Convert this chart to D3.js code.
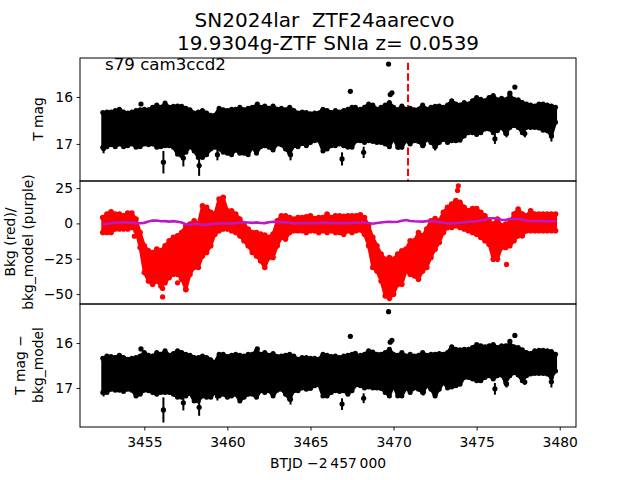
<!DOCTYPE html>
<html><head><meta charset="utf-8">
<script src="https://cdn.jsdelivr.net/npm/d3@7/dist/d3.min.js"></script>
<style>html,body{margin:0;padding:0;background:#fff}svg{display:block}text{font-family:"DejaVu Sans";fill:#000;white-space:pre}</style>
</head><body><svg id="c" width="640" height="480"></svg>
<script>
const titleLines = ["SN2024lar  ZTF24aarecvo", "19.9304g-ZTF SNIa z= 0.0539"];
const note = "s79 cam3ccd2";
const xLabel = "BTJD \u22122\u2009457\u2009000";
const xTicks = [3455,3460,3465,3470,3475,3480];
const firstDay = 3452.5, dayStep = 0.25;
const eventDay = 3470.87;

const magTop = [16.33,16.32,16.32,16.29,16.26,16.32,16.34,16.32,16.29,16.27,16.26,16.27,16.22,16.17,16.22,16.13,16.22,16.20,16.19,16.20,16.24,16.27,16.34,16.32,16.29,16.34,16.39,16.39,16.24,16.27,16.29,16.26,16.26,16.22,16.27,16.24,16.22,16.19,16.22,16.19,16.24,16.19,16.26,16.24,16.27,16.22,16.29,16.34,16.32,16.33,16.36,16.34,16.34,16.26,16.29,16.33,16.29,16.32,16.29,16.26,16.22,16.26,16.26,16.22,16.15,16.17,16.26,16.22,16.17,16.12,16.22,16.27,16.19,16.26,16.24,16.27,16.26,16.17,16.26,16.22,16.20,16.19,16.22,16.17,16.08,16.15,16.17,16.12,16.15,16.08,16.01,16.05,16.08,16.01,15.97,16.06,16.03,16.06,15.97,16.05,16.06,16.12,16.15,16.17,16.19,16.15,16.15,16.17,16.19,16.22];
const magBot = [17.07,17.06,17.02,17.06,17.00,17.06,17.04,17.00,17.07,17.06,17.00,17.02,17.00,17.07,17.06,17.04,17.04,17.07,17.22,17.25,17.18,17.06,17.15,17.29,17.29,17.23,17.11,17.07,17.11,17.18,17.20,17.23,17.13,17.20,17.20,17.23,17.07,17.20,17.06,17.04,17.07,17.13,17.00,17.02,17.11,17.20,17.04,17.06,16.99,17.04,16.97,16.93,16.92,17.15,17.11,17.04,17.04,17.00,17.04,17.07,17.07,16.93,16.93,16.97,16.93,16.95,16.97,16.97,17.00,17.06,16.88,17.07,17.07,16.93,17.00,16.93,16.95,17.04,16.90,16.97,17.06,16.97,16.90,16.97,16.93,16.93,16.92,16.83,16.76,16.76,16.80,16.76,16.68,16.68,16.76,16.72,16.65,16.78,16.65,16.61,16.65,16.76,16.65,16.65,16.65,16.66,16.71,16.72,16.83,16.54];
const bkgTop = [4.2,6.6,8.3,6.6,6.6,5.4,7.3,7.3,3.1,-6.4,-15.8,-19.4,-20.6,-18.2,-19.4,-15.8,-12.3,-9.9,-8.7,-6.4,-1.6,-0.5,1.9,-0.5,12.5,11.4,7.8,6.6,17.3,18.4,9,9,6.6,3.1,-0.5,-4,-6.4,-6.4,-7.6,-8.3,-9.9,-7.6,1.9,5.4,5.4,4.2,3.1,4.2,4.2,4.7,5.4,3.5,4.2,4.2,6.6,4.2,5.4,5.4,5,5.4,5.4,5.4,6.1,4.2,-1.6,-9.9,-15.8,-21.7,-25.3,-24.1,-25.3,-21.7,-19.4,-18.2,-12.3,-12.3,-6.4,-8.7,-4,1.9,3.5,1.9,7.8,11.4,13.7,16.1,14.9,11.4,9,10.6,10.6,7.8,5.4,1.9,-0.5,3.1,-1.6,-0.5,0.7,6.6,10.2,6.6,5.4,9,6.6,6.6,6.6,6.6,6.6,6.6];
const bkgBot = [-6.4,-6.4,-6.4,-4,-4,-4,-4,-2.9,-5.2,-17,-34.8,-40.7,-43,-40.7,-44.2,-41.9,-38.3,-36,-36,-39.5,-46.6,-36,-31.2,-31.2,-23,-20.6,-15.8,-7.6,-5.2,-4,-4,-5.2,-6.4,-8.8,-12.3,-15.8,-20.6,-23,-26.5,-31.2,-24.1,-24.1,-15.8,-9.9,-11.1,-6.4,-5.2,-5.2,-5.2,-6.4,-5.2,-5.2,-6.4,-5.2,-6.4,-5.2,-6.4,-6.4,-7.6,-5.2,-6.4,-5.2,-4.7,-7.6,-15.8,-31.2,-33.6,-40.7,-51.3,-53,-50.1,-43,-43,-33.6,-36,-37.1,-39.5,-33.6,-31.2,-24.1,-18.2,-13.5,-6.4,-2.9,-2.9,-1.7,-2.9,-4,-5.2,-6.4,-7.6,-9.9,-12.3,-14.7,-25.3,-25.3,-17,-17,-15.8,-12.3,-8.8,-8.8,-5.2,-5.2,-5.2,-5.2,-5.2,-5.2,-5.2,-5.2];
const bkgModel = [-0.4,-0.2,0.1,0.5,0.7,0.8,0.6,0.4,0.2,0.1,0.4,1.3,2,2,1.5,1.6,1.3,1.6,1.2,0.6,-0.6,-1.1,-0.3,-0.4,-1,-0.9,-0.5,-0.2,-0.1,0,-0.1,-0.1,0.2,0.5,0.7,0.6,0.4,0.7,0.3,0.2,0.8,1.2,1.0,0.9,0.7,0.6,0,0.1,0.3,0.2,0.1,0.1,0.3,0.4,0.4,0.3,0.2,0.2,0.2,0.3,0.4,0.5,0.6,0.6,0.3,-0.2,0.3,0.7,1,1.2,1,1.2,1.9,2.4,1.7,1.5,1.4,1.3,1.6,1.6,1.4,0.9,0.5,0,0.1,0.2,0.5,0.8,1.2,1.4,1.5,2,2.5,3.6,3.7,3.2,2.6,2.4,3.2,3.1,3.2,2.8,1.9,1.7,1.7,1.7,1.6,1.6,1.5,1.5];
const subTop = [16.34,16.29,16.30,16.32,16.27,16.32,16.36,16.34,16.32,16.29,16.21,16.27,16.29,16.21,16.25,16.17,16.27,16.23,16.17,16.21,16.25,16.27,16.32,16.32,16.29,16.32,16.37,16.43,16.25,16.25,16.30,16.27,16.25,16.27,16.29,16.25,16.25,16.17,16.25,16.21,16.27,16.23,16.30,16.29,16.27,16.25,16.29,16.36,16.32,16.32,16.34,16.34,16.36,16.25,16.27,16.30,16.29,16.32,16.29,16.27,16.25,16.29,16.27,16.25,16.17,16.20,16.25,16.25,16.21,16.14,16.25,16.27,16.21,16.29,16.25,16.29,16.27,16.21,16.27,16.25,16.25,16.23,16.25,16.21,16.08,16.14,16.15,16.14,16.14,16.10,16.03,16.06,16.08,16.06,16.03,16.10,16.06,16.06,16.03,16.08,16.10,16.15,16.21,16.23,16.17,16.16,16.16,16.17,16.19,16.25];
const subBot = [17.10,17.10,17.03,17.05,17.05,17.08,17.03,17.05,17.18,17.14,17.05,17.06,17.10,17.14,17.10,17.10,17.10,17.14,17.21,17.21,17.18,17.12,17.29,17.29,17.18,17.21,17.21,17.10,17.18,17.14,17.21,17.18,17.14,17.29,17.21,17.14,17.14,17.21,17.06,17.10,17.06,17.18,17.05,17.03,17.14,17.25,17.06,17.06,17.00,17.03,17.01,16.95,16.93,17.18,17.18,17.10,17.06,17.08,17.06,17.14,17.06,16.93,16.95,17.00,16.98,17.00,17.00,17.01,17.10,17.18,16.95,17.18,17.18,17.00,17.10,17.00,17.03,17.10,16.95,17.03,17.18,17.03,16.88,17.00,16.98,16.95,16.92,16.77,16.77,16.80,16.84,16.84,16.77,16.73,16.80,16.73,16.71,16.88,16.73,16.66,16.71,16.84,16.73,16.69,16.68,16.68,16.68,16.69,16.77,16.62];

const magOutX = [3454.8,3461.8,3469.7,3467.4,3467.7,3469.8,3469.9,3477.3,3477.0,3456.15,3458.3,3457.35,3452.55,3459.4,3463.8,3466.9,3468.2,3476.1,3479.5,3476.8,3477.9,3470.3,3470.5,3472.5,3471.8];
const magOutY = [16.15,16.15,15.30,15.88,16.22,15.95,15.91,15.79,15.92,17.39,17.46,17.30,17.10,17.23,17.23,17.32,17.18,16.89,16.83,16.78,16.78,17.03,17.02,17.06,17.01];
const magOutErr = [0.04,0.04,0.03,0.03,0.03,0.03,0.03,0.03,0.03,0.24,0.22,0.18,0.10,0.12,0.12,0.14,0.12,0.11,0.12,0.08,0.08,0.10,0.10,0.08,0.08];
const subOutX = [3454.8,3461.8,3469.7,3467.4,3467.7,3469.8,3469.9,3477.3,3477.0,3456.15,3458.3,3457.35,3452.55,3463.8,3466.9,3468.2,3476.1,3479.5,3476.8,3477.9,3459.4,3471.8,3472.5];
const subOutY = [16.13,16.13,15.30,15.85,16.23,15.98,15.94,15.83,15.96,17.49,17.43,17.33,17.10,17.25,17.36,17.23,17.02,16.86,16.91,16.87,17.18,17.09,17.14];
const subOutErr = [0.04,0.04,0.03,0.03,0.03,0.03,0.03,0.03,0.03,0.28,0.19,0.17,0.09,0.12,0.13,0.11,0.13,0.13,0.08,0.06,0.10,0.08,0.08];
const bkgOutX = [3473.9,3473.85,3476.8,3456.1,3456.1,3457.5,3457.0,3454.4];
const bkgOutY = [26.6,23.3,-29,-52,-46,-47,-42,-9];

const days = magTop.map((_, i) => firstDay + i * dayStep);
const svg = d3.select("#c");
const L = 80, R = 576;
const x = d3.scaleLinear().domain([3451.13, 3480.98]).range([L, R]);
const y1 = d3.scaleLinear().domain([15.17, 17.79]).range([58, 181]);
const y2 = d3.scaleLinear().domain([30, -57]).range([181, 304]);
const y3 = d3.scaleLinear().domain([15.13, 17.87]).range([304, 427]);
const fmt = d => String(d).replace("-", "\u2212");

function band(y, top, bot, color, r) {
  const area = d3.area().x((d, i) => x(days[i])).y0((d, i) => y(top[i])).y1((d, i) => y(bot[i]));
  const g = svg.append("g");
  g.append("path").datum(days).attr("d", area)
    .attr("fill", color).attr("stroke", color).attr("stroke-width", 3).attr("stroke-linejoin", "round");
  g.selectAll("circle.t").data(days).join("circle").attr("class", "t")
    .attr("cx", d => x(d)).attr("cy", (d, i) => y(top[i])).attr("r", r).attr("fill", color);
  g.selectAll("circle.b").data(days).join("circle").attr("class", "b")
    .attr("cx", d => x(d)).attr("cy", (d, i) => y(bot[i])).attr("r", r).attr("fill", color);
}
function outliers(y, xs, ys, errs, color) {
  const g = svg.append("g");
  xs.forEach((d, i) => {
    if (errs) g.append("line").attr("x1", x(d)).attr("x2", x(d))
      .attr("y1", y(ys[i] - errs[i])).attr("y2", y(ys[i] + errs[i]))
      .attr("stroke", color).attr("stroke-width", 2);
    g.append("circle").attr("cx", x(d)).attr("cy", y(ys[i])).attr("r", 2.6).attr("fill", color);
  });
}

// panel 1
svg.append("line").attr("x1", x(eventDay)).attr("x2", x(eventDay)).attr("y1", y1(15.27)).attr("y2", 181)
  .attr("stroke", "#f00").attr("stroke-width", 2).attr("stroke-dasharray", "7.4,3.2");
band(y1, magTop, magBot, "#000", 2.5);
outliers(y1, magOutX, magOutY, magOutErr, "#000");
// panel 2
band(y2, bkgTop, bkgBot, "#f00", 2.8);
outliers(y2, bkgOutX, bkgOutY, null, "#f00");
svg.append("path").datum(bkgModel)
  .attr("d", d3.line().x((d, i) => x(days[i])).y(d => y2(d)))
  .attr("fill", "none").attr("stroke", "#bd18c6").attr("stroke-width", 2.6);
// panel 3
band(y3, subTop, subBot, "#000", 2.5);
outliers(y3, subOutX, subOutY, subOutErr, "#000");

// axes
function frame(y, ticks, showX) {
  const [t, b] = y.range();
  const gy = svg.append("g").attr("transform", `translate(${L},0)`)
    .call(d3.axisLeft(y).tickValues(ticks).tickFormat(fmt).tickSize(3.5).tickPadding(3.5));
  gy.select(".domain").remove();
  svg.append("rect").attr("x", L).attr("y", t).attr("width", R - L).attr("height", b - t)
    .attr("fill", "none").attr("stroke", "#000").attr("stroke-width", 1);
  if (showX) {
    svg.append("g").attr("transform", `translate(0,${b})`)
      .call(d3.axisBottom(x).tickValues(xTicks).tickFormat(d3.format("d")).tickSize(3.5).tickPadding(6.5))
      .select(".domain").remove();
  }
}
frame(y1, [16, 17], false);
frame(y2, [25, 0, -25, -50], false);
frame(y3, [16, 17], true);
svg.selectAll(".tick text").style("font-family", '"DejaVu Sans"').style("font-size", "13.89px");
svg.selectAll(".tick line").attr("stroke", "#000").attr("stroke-width", 0.9);

// text
const T = (s, px, py, size, anchor, rot) => {
  const t = svg.append("text").text(s).attr("font-size", size).attr("text-anchor", anchor || "middle");
  t.attr("transform", `translate(${px},${py})` + (rot ? ` rotate(${rot})` : ""));
};
T(titleLines[0], 324.5, 27, 20);
T(titleLines[1], 328, 50, 20);
T(note, 105, 70, 16.67, "start");
T(xLabel, 328, 468, 13.89);
T("T mag", 43, 119, 13.89, "middle", -90);
T("Bkg (red)/", 15, 242, 13.89, "middle", -90);
T("bkg_model (purple)", 33, 242, 13.89, "middle", -90);
T("T mag \u2212", 25, 365, 13.89, "middle", -90);
T("bkg_model", 43, 365, 13.89, "middle", -90);
</script></body></html>
